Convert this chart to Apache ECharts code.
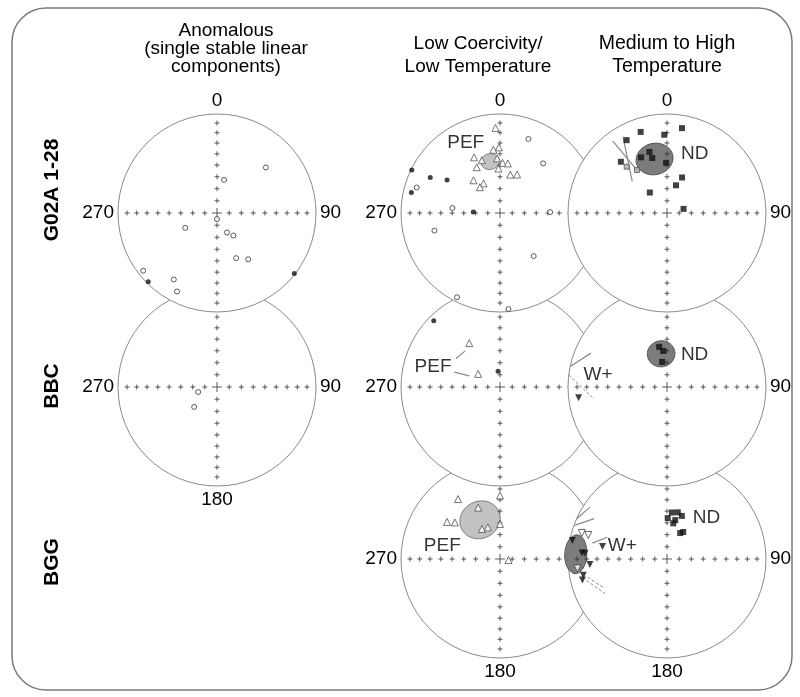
<!DOCTYPE html>
<html>
<head>
<meta charset="utf-8">
<script src="https://cdn.jsdelivr.net/npm/echarts@6/dist/echarts.min.js"></script>
<style>
    html, body { margin: 0; padding: 0; background: #fff; }
    #chart { width: 800px; height: 697px; }
</style>
</head>
<body>
<div id="chart"></div>
<script>
    // directions as [declination, inclination] in degrees; negative inclination = upper hemisphere
    // G02A 1-28, anomalous
    var g02aAnomOpen = [[47, -33], [12, -62], [180, -85], [245, -61], [153, -72], [144, -67],
        [157, -49], [146, -43], [232, -6], [213, -21], [207, -12]];
    var g02aAnomFilled = [[225, 2], [128, 1]];
    // BBC, anomalous
    var bbcAnomOpen = [[255, -74], [229, -65]];

    // G02A 1-28, low coercivity / low temperature
    var g02aLowTri = [[357, 15], [354, 36], [359, 34], [335, 38], [341, 43], [333, 47], [357, 44],
        [3, 48], [9, 48], [358, 53], [15, 57], [24, 55], [321, 55], [331, 62], [322, 63]];
    var g02aLowFilled = [[296, 1], [297, 22], [302, 37], [283, 9], [272, 68]];
    var g02aLowOpen = [[21, -21], [41, -34], [287, -13], [276, -50], [255, -32], [89, -48],
        [142, -44], [207, -5], [175, -3]];
    var g02aLowPEF = [[349, 46, 7]]; // dec, inc, a95

    // G02A 1-28, medium to high temperature
    var g02aHighSq = [[10, 14], [342, 15], [358, 22], [331, 17], [344, 36], [345, 42], [335, 38],
        [359, 48], [318, 31], [23, 58], [18, 66], [320, 68], [76, 76]];
    var g02aHighGray = [[319, 38], [325, 46]];
    var g02aHighND = [[347, 43, 14]];
    var g02aHighTraces = [[323, 10, 325, 47], [330, 12, 312, 51]]; // dec1, inc1, dec2, inc2

    // BBC, low
    var bbcLowFilled = [[315, 6], [353, 77]];
    var bbcLowTri = [[325, 45], [301, 69]];
    var bbcLowLeaders = [[303, 46, 316, 48], [288, 50, 290, 63]];

    // BBC, medium to high
    var bbcHighSq = [[349, 56], [354, 60], [349, 69]];
    var bbcHighND = [[350, 62, 11]];
    var bbcHighInvTri = [[263, 11]];
    var bbcHighTraces = [[282, 0, 294, 17]];
    var bbcHighDashed = [[277, 0, 262, -25]];

    // BGG, low
    var bggLowTri = [[325, 27], [0, 36], [337, 43], [305, 35], [309, 41], [329, 61], [339, 62],
        [0, 61], [97, 83]];
    var bggLowPEF = [[333, 53, 16]];

    // BGG, medium to high
    var bggHighSq = [[6, 51], [13, 50], [1, 56], [12, 57], [19, 52], [10, 60], [27, 66], [31, 64]];
    var bggHighW = [[273, 8, 12]];
    var bggHighInvTri = [[281, 34], [281, 3], [274, 15], [274, 18], [266, 23], [259, 15], [256, 13]];
    var bggHighOpenInvTri = [[287, -11], [287, -18], [264, -10]];
    var bggHighTraces = [[294, 0, 304, 7], [290, 1, 299, 17], [282, 24, 290, 36]];
    var bggHighDashed = [[257, -19, 246, -30], [255, -17, 241, -29]];

    // net ticks (colatitude steps) and directions of the cross-hairs
    var tickColats = [10, 20, 30, 40, 50, 60, 70, 80];
    var tickAzimuths = [0, 90, 180, 270];

    var FONT = '"Liberation Sans", Arial, sans-serif';
    var R = 99;
    var RAD = Math.PI / 180;

    // equal-area radius, 1 at the primitive
    function eqR(inc) {
        return Math.SQRT2 * Math.sin((90 - inc) / 2 * RAD);
    }

    function toPolar(d) {
        return [eqR(Math.abs(d[1])), d[0]];
    }

    // small circle of radius a95 around a direction, as [r, dec] points
    function smallCircle(dec, inc, a95) {
        var c = [Math.cos(inc * RAD) * Math.cos(dec * RAD), Math.cos(inc * RAD) * Math.sin(dec * RAD), Math.sin(inc * RAD)];
        var u = [-Math.sin(dec * RAD), Math.cos(dec * RAD), 0];
        var v = [c[1] * u[2] - c[2] * u[1], c[2] * u[0] - c[0] * u[2], c[0] * u[1] - c[1] * u[0]];
        var ca = Math.cos(a95 * RAD), sa = Math.sin(a95 * RAD);
        var pts = [];
        for (var t = 0; t < 360; t += 6) {
            var ct = Math.cos(t * RAD), st = Math.sin(t * RAD);
            var p = [0, 1, 2].map(function (k) {
                return ca * c[k] + sa * (ct * u[k] + st * v[k]);
            });
            var pd = Math.atan2(p[1], p[0]) / RAD;
            var pi = Math.asin(Math.max(-1, Math.min(1, p[2]))) / RAD;
            pts.push([eqR(pi), (pd + 360) % 360]);
        }
        return pts;
    }

    var markStyles = {
        openCircle: {symbol: 'circle', symbolSize: 5, itemStyle: {color: '#fff', borderColor: '#333', borderWidth: 1}},
        dot: {symbol: 'circle', symbolSize: 5, itemStyle: {color: '#111', borderWidth: 0}},
        openTri: {symbol: 'triangle', symbolSize: 7, itemStyle: {color: '#fff', borderColor: '#555', borderWidth: 1}},
        square: {symbol: 'rect', symbolSize: 6, itemStyle: {color: '#111', borderWidth: 0}},
        graySquare: {symbol: 'rect', symbolSize: 5, itemStyle: {color: '#aaa', borderColor: '#555', borderWidth: 1}},
        invTri: {symbol: 'triangle', symbolRotate: 180, symbolSize: 7, itemStyle: {color: '#111', borderWidth: 0}},
        openInvTri: {symbol: 'triangle', symbolRotate: 180, symbolSize: 7, itemStyle: {color: '#fff', borderColor: '#444', borderWidth: 1}}
    };

    var LIGHT = {fill: '#c2c2c2', stroke: '#7a7a7a'};
    var DARK = {fill: '#7c7c7c', stroke: '#555'};

    // z decides which net covers its neighbour
    var plots = [
        {center: [217, 213], z: 70, ticks: [0, 90, 270],
            marks: [[g02aAnomOpen, 'openCircle'], [g02aAnomFilled, 'dot']]},
        {center: [217, 387], z: 60, ticks: [90, 180, 270],
            marks: [[bbcAnomOpen, 'openCircle']]},
        {center: [500, 213], z: 50, ticks: [0, 270],
            ovals: [[g02aLowPEF, LIGHT]],
            marks: [[g02aLowTri, 'openTri'], [g02aLowFilled, 'dot'], [g02aLowOpen, 'openCircle']],
            labels: [{text: 'PEF', at: [334, 22]}]},
        {center: [667, 213], z: 60, ticks: [0, 90],
            ovals: [[g02aHighND, DARK]],
            traces: [[g02aHighTraces, false]],
            marks: [[g02aHighSq, 'square'], [g02aHighGray, 'graySquare']],
            labels: [{text: 'ND', at: [25, 34]}]},
        {center: [500, 387], z: 30, ticks: [270],
            traces: [[bbcLowLeaders, false]],
            marks: [[bbcLowFilled, 'dot'], [bbcLowTri, 'openTri']],
            labels: [{text: 'PEF', at: [287, 30]}]},
        {center: [667, 387], z: 40, ticks: [90],
            ovals: [[bbcHighND, DARK]],
            traces: [[bbcHighTraces, false], [bbcHighDashed, true]],
            marks: [[bbcHighSq, 'square'], [bbcHighInvTri, 'invTri']],
            labels: [{text: 'ND', at: [41, 55]}, {text: 'W+', at: [280, 30]}]},
        {center: [500, 559], z: 10, ticks: [180, 270],
            ovals: [[bggLowPEF, LIGHT]],
            marks: [[bggLowTri, 'openTri']],
            labels: [{text: 'PEF', at: [283, 40]}]},
        {center: [667, 559], z: 20, ticks: [90, 180],
            ovals: [[bggHighW, DARK]],
            traces: [[bggHighTraces, false], [bggHighDashed, true]],
            marks: [[bggHighSq, 'square'], [bggHighInvTri, 'invTri'], [bggHighOpenInvTri, 'openInvTri']],
            labels: [{text: 'ND', at: [44, 42]}, {text: 'W+', at: [287, 51]}]}
    ];

    var tickData = [];
    tickAzimuths.forEach(function (az) {
        tickColats.forEach(function (c) {
            tickData.push([Math.SQRT2 * Math.sin(c / 2 * RAD), az]);
        });
    });

    function headerLine(text, x, y, size) {
        return {type: 'text', x: x, y: y,
            style: {text: text, font: size + 'px ' + FONT, align: 'center', verticalAlign: 'middle', fill: '#000'}};
    }

    function rowLabel(text, y) {
        return {type: 'text', x: 52, y: y, rotation: Math.PI / 2,
            style: {text: text, font: 'bold 21px ' + FONT, align: 'center', verticalAlign: 'middle', fill: '#000'}};
    }

    var option = {
        animation: false,
        backgroundColor: '#fff',
        polar: [],
        angleAxis: [],
        radiusAxis: [],
        series: [],
        graphic: [
            {type: 'rect', shape: {x: 12, y: 8, width: 780, height: 682, r: 34},
                style: {fill: 'none', stroke: '#7a7a7a', lineWidth: 1.5}},
            headerLine('Anomalous', 226, 31, 19),
            headerLine('(single stable linear', 226, 49, 19),
            headerLine('components)', 226, 67, 19),
            headerLine('Low Coercivity/', 478, 44, 19),
            headerLine('Low Temperature', 478, 67, 19),
            headerLine('Medium to High', 667, 44, 19.5),
            headerLine('Temperature', 667, 67, 19.5),
            rowLabel('G02A 1-28', 190),
            rowLabel('BBC', 386),
            rowLabel('BGG', 562)
        ]
    };

    plots.forEach(function (p, i) {
        var base = p.z;
        option.polar.push({center: p.center, radius: R});
        option.angleAxis.push({
            polarIndex: i, type: 'value', min: 0, max: 360, interval: 90,
            startAngle: 90, clockwise: true, z: base + 1,
            axisLine: {lineStyle: {color: '#8a8a8a', width: 1}},
            axisTick: {show: false},
            splitLine: {show: false},
            axisLabel: {
                margin: 4, fontSize: 19, color: '#000', fontFamily: FONT,
                formatter: function (v) {
                    return p.ticks.indexOf(v) >= 0 ? String(v) : '';
                }
            }
        });
        option.radiusAxis.push({
            polarIndex: i, type: 'value', min: 0, max: 1, interval: 1, z: base,
            axisLine: {show: false}, axisTick: {show: false}, axisLabel: {show: false},
            splitLine: {show: false},
            splitArea: {show: true, areaStyle: {color: ['#fff']}}
        });

        (p.ovals || []).forEach(function (o) {
            var colors = o[1];
            option.series.push({
                type: 'custom', coordinateSystem: 'polar', polarIndex: i, z: base + 2, silent: true,
                data: o[0],
                renderItem: function (params, api) {
                    var pts = smallCircle(api.value(0), api.value(1), api.value(2)).map(function (q) {
                        return api.coord(q);
                    });
                    return {type: 'polygon', shape: {points: pts},
                        style: {fill: colors.fill, stroke: colors.stroke, lineWidth: 1}};
                }
            });
        });

        option.series.push({
            type: 'scatter', coordinateSystem: 'polar', polarIndex: i, z: base + 3, silent: true,
            symbol: 'path://M0,5H10M5,0V10', symbolSize: 5,
            itemStyle: {color: 'transparent', borderColor: '#333', borderWidth: 1},
            data: tickData
        });
        option.series.push({
            type: 'scatter', coordinateSystem: 'polar', polarIndex: i, z: base + 3, silent: true,
            symbol: 'path://M0,5H10M5,0V10', symbolSize: 10,
            itemStyle: {color: 'transparent', borderColor: '#333', borderWidth: 1},
            data: [[0, 0]]
        });

        (p.traces || []).forEach(function (t) {
            var dashed = t[1];
            option.series.push({
                type: 'custom', coordinateSystem: 'polar', polarIndex: i, z: base + 4, silent: true,
                data: t[0],
                renderItem: function (params, api) {
                    var a = api.coord([eqR(Math.abs(api.value(1))), api.value(0)]);
                    var b = api.coord([eqR(Math.abs(api.value(3))), api.value(2)]);
                    return {type: 'line', shape: {x1: a[0], y1: a[1], x2: b[0], y2: b[1]},
                        style: {stroke: '#8a8a8a', lineWidth: dashed ? 1 : 1.2, lineDash: dashed ? [3, 2] : null}};
                }
            });
        });

        p.marks.forEach(function (m) {
            var st = markStyles[m[1]];
            option.series.push({
                type: 'scatter', coordinateSystem: 'polar', polarIndex: i, z: base + 5, silent: true,
                symbol: st.symbol, symbolSize: st.symbolSize, symbolRotate: st.symbolRotate || 0,
                itemStyle: st.itemStyle,
                data: m[0].map(toPolar)
            });
        });

        if (p.labels) {
            option.series.push({
                type: 'scatter', coordinateSystem: 'polar', polarIndex: i, z: base + 6, silent: true,
                symbolSize: 1, itemStyle: {color: 'transparent'},
                label: {show: true, position: 'inside', formatter: '{b}', fontSize: 19, color: '#000', fontFamily: FONT},
                data: p.labels.map(function (l) {
                    return {name: l.text, value: toPolar(l.at)};
                })
            });
        }
    });

    var chart = echarts.init(document.getElementById('chart'));
    chart.setOption(option);
</script>
</body>
</html>
